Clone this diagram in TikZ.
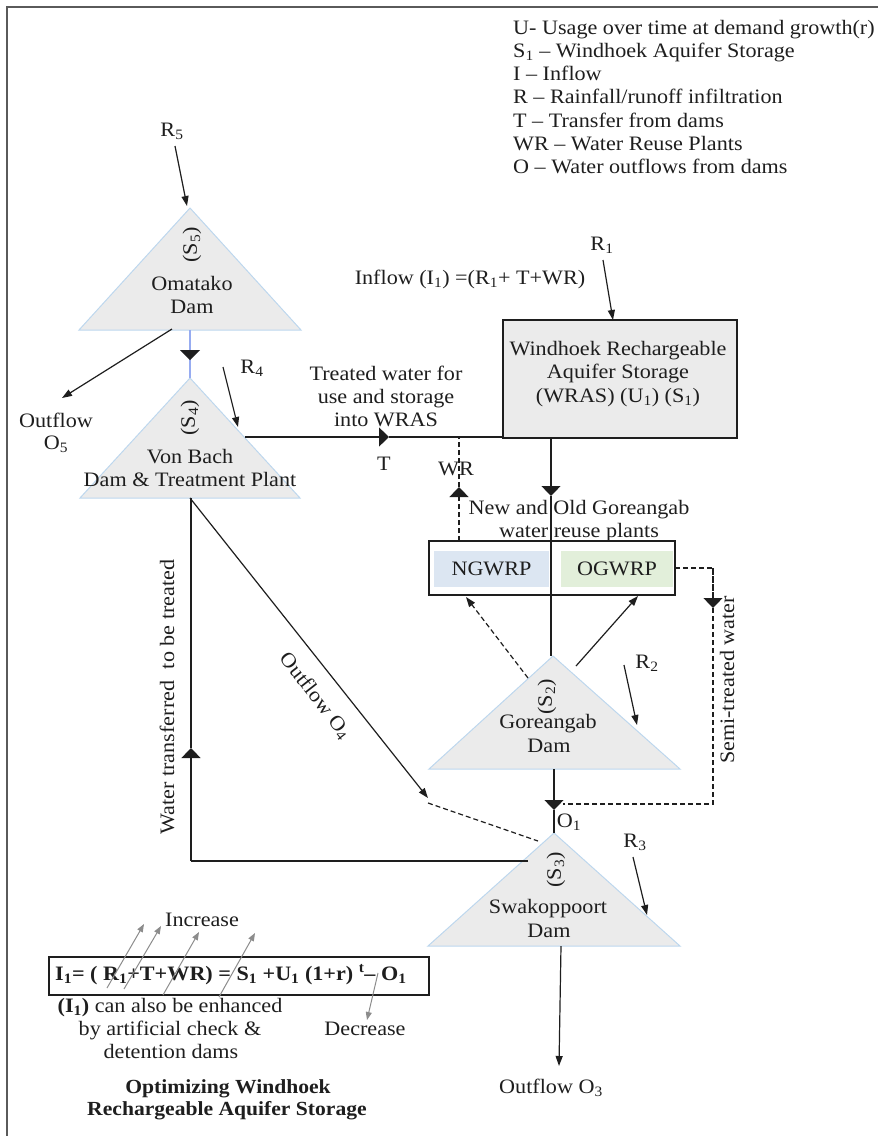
\documentclass[tikz,border=0pt]{standalone}
\usepackage{fontspec}
\setmainfont{Liberation Serif}[FakeStretch=1.08]
\usetikzlibrary{arrows.meta}

\definecolor{damfill}{HTML}{EBEBEB}
\definecolor{damedge}{HTML}{BDD7EE}
\definecolor{boxfill}{HTML}{EBEBEB}
\definecolor{ink}{HTML}{1E1E1E}
\definecolor{ngfill}{HTML}{DCE6F2}
\definecolor{ogfill}{HTML}{E2EFDA}
\definecolor{framegray}{HTML}{5A5A5A}
\definecolor{incgray}{HTML}{8C8C8C}

\begin{document}
\begin{tikzpicture}[x=1pt,y=-1pt,
  lbl/.style={font=\fontsize{20.5}{23.5}\selectfont, inner sep=0, text=ink},
  bl/.style={lbl, anchor=base},
  blw/.style={lbl, anchor=base west},
  dam/.style={fill=damfill, draw=damedge, line width=1},
  flow/.style={draw=ink, line width=1.2},
  dashflow/.style={flow, dash pattern=on 5pt off 3pt},
  tipend/.style={-{Triangle[length=10pt,width=7pt]}},
  midtip/.style={-{Triangle[length=10pt,width=19pt]}},
  grayarrow/.style={draw=incgray, line width=1, -{Triangle[length=8pt,width=6pt]}}
]
\useasboundingbox (0,0) rectangle (878,1136);

% frame edges
\draw[framegray, line width=2.5] (7,1136) -- (7,7) -- (878,7);

% ---------- dams (triangles) ----------
\coordinate (omA) at (190,208); \coordinate (omL) at (79,330);
\coordinate (omR) at (301,330); \coordinate (omB) at (190,330);
\coordinate (vbA) at (190,378); \coordinate (vbL) at (80,498);
\coordinate (vbR) at (300,498); \coordinate (vbB) at (190,498);
\coordinate (goA) at (553,656); \coordinate (goL) at (429,769);
\coordinate (goR) at (680,769); \coordinate (goB) at (554,769);
\coordinate (swA) at (554,833); \coordinate (swL) at (428,946);
\coordinate (swR) at (680,946); \coordinate (swB) at (561,946);

\path[dam] (omA) -- (omR) -- (omL) -- cycle;
\path[dam] (vbA) -- (vbR) -- (vbL) -- cycle;
\path[dam] (goA) -- (goR) -- (goL) -- cycle;
\path[dam] (swA) -- (swR) -- (swL) -- cycle;

% dam labels
\node[lbl, rotate=90] (s5) at (192,245) {(S\textsubscript{5})};
\node[bl] (omT1) at (192,290) {Omatako};
\node[bl] (omT2) at (192,313) {Dam};
\node[lbl, rotate=90] (s4) at (190,418) {(S\textsubscript{4})};
\node[bl] (vbT1) at (190,463) {Von Bach};
\node[bl] (vbT2) at (190,486) {Dam \& Treatment Plant};
\node[lbl, rotate=90] (s2) at (547,697) {(S\textsubscript{2})};
\node[bl] (goT1) at (548,728) {Goreangab};
\node[bl] (goT2) at (549,752) {Dam};
\node[lbl, rotate=90] (s3) at (556,870) {(S\textsubscript{3})};
\node[bl] (swT1) at (548,913) {Swakoppoort};
\node[bl] (swT2) at (549,937) {Dam};

% ---------- aquifer storage box ----------
\node[draw=ink, fill=boxfill, line width=1.2, minimum width=234, minimum height=118, inner sep=0] (wras) at (620,379) {};
\node[bl] (wras1) at (618,355) {Windhoek Rechargeable};
\node[bl] (wras2) at (618,378) {Aquifer Storage};
\node[bl] (wras3) at (618,402) {(WRAS) (U\textsubscript{1}) (S\textsubscript{1})};

% ---------- water reuse plants ----------
\node[draw=ink, line width=1.2, minimum width=246, minimum height=54, inner sep=0] (reuse) at (552,568) {};
\node[lbl, fill=ngfill, minimum width=115, minimum height=36] (ngwrp) at (491.5,569) {NGWRP};
\node[lbl, fill=ogfill, minimum width=112, minimum height=36] (ogwrp) at (617,569) {OGWRP};
\node[bl] (reuseT1) at (579,514) {New and Old Goreangab};
\node[bl] (reuseT2) at (579,537) {water reuse plants};

% ---------- rainfall inputs ----------
\node[bl] (r5) at (172,136) {R\textsubscript{5}};
\coordinate (r5s) at (175,146); \coordinate (r5e) at (187,206);
\draw[flow, tipend] (r5s) -- (r5e);
\node[bl] (r4) at (252,373) {R\textsubscript{4}};
\coordinate (r4s) at (223,367); \coordinate (r4e) at (238,427);
\draw[flow, tipend] (r4s) -- (r4e);
\node[bl] (r1) at (602,250) {R\textsubscript{1}};
\coordinate (r1s) at (603,260); \coordinate (r1e) at (613,320);
\draw[flow, tipend] (r1s) -- (r1e);
\node[bl] (r2) at (647,668) {R\textsubscript{2}};
\coordinate (r2s) at (624,665); \coordinate (r2e) at (637,725);
\draw[flow, tipend] (r2s) -- (r2e);
\node[bl] (r3) at (635,847) {R\textsubscript{3}};
\coordinate (r3s) at (633,857); \coordinate (r3e) at (647,915);
\draw[flow, tipend] (r3s) -- (r3e);

% ---------- Omatako outflows ----------
\coordinate (o5s) at (172,329); \coordinate (o5e) at (62,398);
\draw[flow, tipend] (o5s) -- (o5e);
\node[bl] (o5a) at (56,427) {Outflow};
\node[bl] (o5b) at (56,449) {O\textsubscript{5}};
\coordinate (omvbTip) at (190,360);
\draw[damedge!80!blue, line width=1.5] (omB) -- (vbA);
\fill[ink] (omvbTip) -- ++(-10,-10) -- ++(20,0) -- cycle;

% ---------- transfer T ----------
\coordinate (tS) at (245,437); \coordinate (tTip) at (389,437); \coordinate (tE) at (503,437);
\draw[flow, midtip] (tS) -- (tTip);
\draw[flow] (tTip) -- (tE);
\node[bl] (tr1) at (386,380) {Treated water for};
\node[bl] (tr2) at (386,403) {use and storage};
\node[bl] (tr3) at (386,426) {into WRAS};
\node[bl] (tlbl) at (384,470) {T};
\node[bl] (inflow) at (470,284) {Inflow (I\textsubscript{1}) =(R\textsubscript{1}+ T+WR)};

% ---------- WR return (dashed) ----------
\coordinate (wrS) at (459,541); \coordinate (wrTip) at (459,487); \coordinate (wrE) at (459,437);
\draw[dashflow, midtip] (wrS) -- (wrTip);
\draw[dashflow] (wrTip) -- (wrE);
\node[bl] (wrlbl) at (456,475) {WR};

% ---------- WRAS to Goreangab ----------
\coordinate (wdS) at (551,438); \coordinate (wdTip) at (551,496); \coordinate (wdE) at (551,656);
\draw[flow, midtip] (wdS) -- (wdTip);
\draw[flow] (wdTip) -- (wdE);

% ---------- Goreangab to plants ----------
\coordinate (gnS) at (528,678); \coordinate (gnE) at (466,597);
\draw[dashflow, tipend] (gnS) -- (gnE);
\coordinate (goS) at (576,666); \coordinate (goE) at (638,596);
\draw[flow, tipend] (goS) -- (goE);

% ---------- semi-treated water (dashed) ----------
\coordinate (st1) at (675,568); \coordinate (st2) at (713,568);
\coordinate (stTip) at (713,608); \coordinate (st3) at (713,804); \coordinate (st4) at (563,804);
\draw[dashflow] (st1) -- (st2) -- (stTip);
\draw[dashflow, midtip] (st2) -- (stTip);
\draw[dashflow] (stTip) -- (st3) -- (st4);
\node[lbl, rotate=90] (semi) at (727,680) {Semi-treated water};

% ---------- Goreangab to Swakoppoort ----------
\coordinate (gsTip) at (554,810);
\draw[flow, midtip] (goB) -- (gsTip);
\draw[flow] (gsTip) -- (swA);
\node[bl] (o1) at (569,827) {O\textsubscript{1}};

% ---------- Von Bach outflow O4 ----------
\coordinate (o4e) at (428,798);
\draw[flow, tipend] (vbB) -- (o4e);
\node[lbl, rotate=-52] (o4) at (315,696) {Outflow O\textsubscript{4}};
\coordinate (o4d1) at (428,803); \coordinate (o4d2) at (538,841);
\draw[dashflow] (o4d1) -- (o4d2);

% ---------- water transferred back to Von Bach ----------
\coordinate (wtS) at (528,861); \coordinate (wtC) at (191,861);
\coordinate (wtTip) at (191,748); \coordinate (wtE) at (191,498);
\draw[flow] (wtS) -- (wtC);
\draw[flow, midtip] (wtC) -- (wtTip);
\draw[flow] (wtTip) -- (wtE);
\node[lbl, rotate=90] (wt) at (167,697) {Water transferred\hspace{0.3em} to be treated};

% ---------- Swakoppoort outflow ----------
\coordinate (o3e) at (559,1066);
\draw[flow, tipend] (swB) -- (o3e);
\node[bl] (o3) at (551,1093) {Outflow O\textsubscript{3}};

% ---------- legend ----------
\node[blw] (legU) at (513,34) {U- Usage over time at demand growth(r)};
\node[blw] (legS) at (513,57) {S\textsubscript{1} – Windhoek Aquifer Storage};
\node[blw] (legI) at (513,80) {I – Inflow};
\node[blw] (legR) at (513,103) {R – Rainfall/runoff infiltration};
\node[blw] (legT) at (513,127) {T – Transfer from dams};
\node[blw] (legW) at (513,150) {WR – Water Reuse Plants};
\node[blw] (legO) at (513,173) {O – Water outflows from dams};

% ---------- balance equation ----------
\node[draw=ink, line width=1.5, minimum width=380, minimum height=38, inner sep=0] (eqbox) at (239,976) {};
\node[blw] (eq) at (55,980) {\bfseries I\textsubscript{1}= ( R\textsubscript{1}+T+WR) = S\textsubscript{1} +U\textsubscript{1} (1+r) \textsuperscript{t}– O\textsubscript{1}};
\node[bl] (inc) at (202,926) {Increase};
\coordinate (a1s) at (107,988); \coordinate (a1e) at (144,924);
\coordinate (a2s) at (124,989); \coordinate (a2e) at (161,926);
\coordinate (a3s) at (163,995); \coordinate (a3e) at (199,932);
\coordinate (a4s) at (219,997); \coordinate (a4e) at (255,933);
\draw[grayarrow] (a1s) -- (a1e);
\draw[grayarrow] (a2s) -- (a2e);
\draw[grayarrow] (a3s) -- (a3e);
\draw[grayarrow] (a4s) -- (a4e);
\coordinate (d1s) at (378,973); \coordinate (d1e) at (367,1020);
\draw[grayarrow] (d1s) -- (d1e);
\node[bl] (dec) at (365,1035) {Decrease};
\node[bl] (enh1) at (170,1012) {\textbf{(I\textsubscript{1})} can also be enhanced};
\node[bl] (enh2) at (170,1035) {by artificial check \&};
\node[bl] (enh3) at (171,1058) {detention dams};
\node[bl, font=\fontsize{20}{23}\selectfont\bfseries] (ttl1) at (228,1093) {Optimizing Windhoek};
\node[bl, font=\fontsize{20}{23}\selectfont\bfseries] (ttl2) at (227,1115) {Rechargeable Aquifer Storage};

\end{tikzpicture}
\end{document}
